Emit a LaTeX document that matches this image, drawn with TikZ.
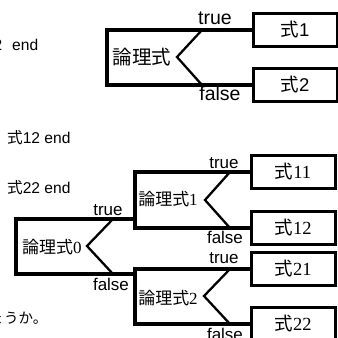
\documentclass[tikz,border=0pt]{standalone}
\usepackage{fontspec}
\setmainfont{Liberation Sans}
\newfontfamily\jp{Noto Sans CJK JP}
\newfontfamily\sr{Liberation Serif}
\newcommand{\fs}[1]{\fontsize{#1}{#1}\selectfont}
\tikzset{
  br/.style={line width=3.2pt},
  chev/.style={line width=2.3pt},
  box/.style={draw, line width=3pt, minimum width=84pt, minimum height=33pt, inner sep=0pt},
  lbl/.style={inner sep=0pt},
}
\begin{document}
\begin{tikzpicture}[x=1pt,y=-1pt]
\useasboundingbox (0,0) rectangle (338,338);
\clip (0,0) rectangle (338,338);
% left fragments of text
\node[lbl, anchor=east, font=\fs{15.6}] (p2) at (2.5,45) {2};
\node[lbl, anchor=west, font=\fs{15.6}] (e0) at (12,45) {end};
\node[lbl, anchor=west, font=\fs{15.6}] (e12) at (7,138) {{\jp 式}12 end};
\node[lbl, anchor=west, font=\fs{15.6}] (e22) at (7,188) {{\jp 式}22 end};
\node[lbl, anchor=west, font=\fs{14.5}] (yo) at (-10.5,318) {\jp ょうか。};

% top diagram
\node[box, font=\fs{18.5}] (b1) at (295,30) {{\jp 式}1};
\node[box, font=\fs{18.5}] (b2) at (295,85) {{\jp 式}2};
\coordinate (L) at (107,57);
\draw[br] (b1.west) -| (L) |- (b2.west);
\draw[chev] (202,30) -- (177,57) -- (202,85);
\node[lbl, font=\fs{19.5}] (c) at (142,57) {\jp 論理式};
\node[lbl, font=\fs{19.5}] (t) at (215,18) {true};
\node[lbl, font=\fs{19.5}] (f) at (220,94) {false};

% bottom diagram
\node[box, font=\fs{18.5}] (b11) at (293,172) {{\jp 式}{\sr 11}};
\node[box, font=\fs{18.5}] (b12) at (293,228) {{\jp 式}{\sr 12}};
\node[box, font=\fs{18.5}] (b21) at (293,269) {{\jp 式}{\sr 21}};
\node[box, font=\fs{18.5}] (b22) at (293,324) {{\jp 式}{\sr 22}};
\coordinate (L1) at (135,200);
\coordinate (L2) at (135,296);
\coordinate (L0) at (16,246);
\coordinate (j1) at (135,219);
\coordinate (j2) at (135,274);
\draw[br] (b11.west) -| (L1) |- (b12.west);
\draw[br] (b21.west) -| (L2) |- (b22.west);
\draw[br] (j1) -| (L0) |- (j2);
\draw[chev] (113,219) -- (87,246) -- (113,274);
\draw[chev] (230,172) -- (205,200) -- (230,228);
\draw[chev] (230,269) -- (204,296) -- (230,324);
\node[lbl, font=\fs{17}] (c0) at (52,247) {{\jp 論理式}{\sr 0}};
\node[lbl, font=\fs{17}] (c1) at (168,199) {{\jp 論理式}{\sr 1}};
\node[lbl, font=\fs{17}] (c2) at (168,298) {{\jp 論理式}{\sr 2}};
\node[lbl, font=\fs{17}] (t0) at (108,210) {true};
\node[lbl, font=\fs{17}] (f0) at (111,284) {false};
\node[lbl, font=\fs{17}] (t1) at (224,163) {true};
\node[lbl, font=\fs{17}] (f1) at (225,237) {false};
\node[lbl, font=\fs{17}] (t2) at (224,258) {true};
\node[lbl, font=\fs{17}] (f2) at (225,334) {false};
\end{tikzpicture}
\end{document}
